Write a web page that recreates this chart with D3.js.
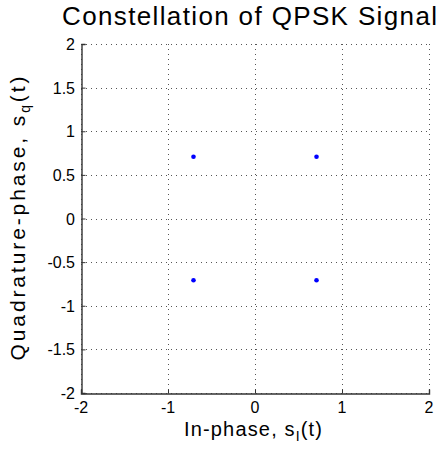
<!DOCTYPE html>
<html>
<head>
<meta charset="utf-8">
<script src="https://cdn.jsdelivr.net/npm/d3@7"></script>
<style>
  body { margin: 0; background: #fff; }
  text { font-family: "Liberation Sans", Arial, sans-serif; fill: #000; }
</style>
</head>
<body>
<div id="container"></div>
<script>
/* CONSTANTS AND GLOBALS */
const width = 444, height = 449;
const margin = { top: 44, right: 15, bottom: 56, left: 81 };

/* DATA */
// QPSK symbols (about ±0.707)
const inPhase = [-0.707, 0.707, -0.707, 0.707];
const quadrature = [0.707, 0.707, -0.707, -0.707];
const tickValues = [-2, -1.5, -1, -0.5, 0, 0.5, 1, 1.5, 2];
const xTickValues = [-2, -1, 0, 1, 2];

const points = inPhase.map((d, i) => ({ x: d, y: quadrature[i] }));

/* SCALES */
const xScale = d3.scaleLinear()
  .domain([-2, 2])
  .range([margin.left, width - margin.right]);

const yScale = d3.scaleLinear()
  .domain([-2, 2])
  .range([height - margin.bottom, margin.top]);

const svg = d3.select("#container").append("svg")
  .attr("width", width)
  .attr("height", height);

// grid (dotted)
svg.append("g").selectAll("line.vgrid")
  .data(xTickValues)
  .join("line")
  .attr("x1", d => Math.round(xScale(d)) + 0.5)
  .attr("x2", d => Math.round(xScale(d)) + 0.5)
  .attr("y1", yScale(2))
  .attr("y2", yScale(-2))
  .attr("stroke", "#555")
  .attr("stroke-dasharray", "1,4");

svg.append("g").selectAll("line.hgrid")
  .data(tickValues)
  .join("line")
  .attr("y1", d => Math.round(yScale(d)) + 0.5)
  .attr("y2", d => Math.round(yScale(d)) + 0.5)
  .attr("x1", xScale(-2))
  .attr("x2", xScale(2))
  .attr("stroke", "#555")
  .attr("stroke-dasharray", "1,4");

// axes - ticks point inward like matlab
const xAxis = d3.axisTop(xScale).tickValues(xTickValues).tickSize(4).tickFormat("");
const yAxis = d3.axisRight(yScale).tickValues(tickValues).tickSize(4).tickFormat("");

const gx = svg.append("g")
  .attr("transform", `translate(0,${Math.round(yScale(-2)) + 0.5})`)
  .call(xAxis);
const gy = svg.append("g")
  .attr("transform", `translate(${Math.round(xScale(-2)) + 0.5},0)`)
  .call(yAxis);

[gx, gy].forEach(g => {
  g.select(".domain").attr("stroke", "#333").attr("stroke-width", 1.4);
  g.selectAll(".tick line").attr("stroke", "#333");
});

// tick labels
svg.append("g").selectAll("text")
  .data(xTickValues)
  .join("text")
  .attr("x", d => xScale(d))
  .attr("y", yScale(-2) + 20)
  .attr("text-anchor", "middle")
  .style("font-size", "16px")
  .text(d => d);

svg.append("g").selectAll("text")
  .data(tickValues)
  .join("text")
  .attr("x", xScale(-2) - 6)
  .attr("y", d => yScale(d) + 6)
  .attr("text-anchor", "end")
  .style("font-size", "16px")
  .text(d => d);

/* MARKERS */
svg.selectAll("circle.pt")
  .data(points)
  .join("circle")
  .attr("class", "pt")
  .attr("cx", d => xScale(d.x))
  .attr("cy", d => yScale(d.y))
  .attr("r", 2.3)
  .attr("fill", "#0000ff");

/* TITLES */
svg.append("text")
  .attr("x", 249.5)
  .attr("y", 25)
  .attr("text-anchor", "middle")
  .attr("textLength", 375)
  .attr("lengthAdjust", "spacing")
  .style("font-size", "26px")
  .text("Constellation of QPSK Signal");

const xl = svg.append("text")
  .attr("x", 253)
  .attr("y", 436)
  .attr("text-anchor", "middle")
  .attr("textLength", 138)
  .attr("lengthAdjust", "spacing")
  .style("font-size", "20px");
xl.append("tspan").text("In-phase, s");
xl.append("tspan").attr("dy", 5).style("font-size", "14px").text("I");
xl.append("tspan").attr("dy", -5).text("(t)");

const yl = svg.append("text")
  .attr("transform", `translate(25,${(yScale(-2) + yScale(2)) / 2}) rotate(-90)`)
  .attr("text-anchor", "middle")
  .attr("textLength", 284)
  .attr("lengthAdjust", "spacing")
  .style("font-size", "21px");
yl.append("tspan").text("Quadrature-phase, s");
yl.append("tspan").attr("dy", 5).style("font-size", "14px").text("q");
yl.append("tspan").attr("dy", -5).text("(t)");
</script>
</body>
</html>
